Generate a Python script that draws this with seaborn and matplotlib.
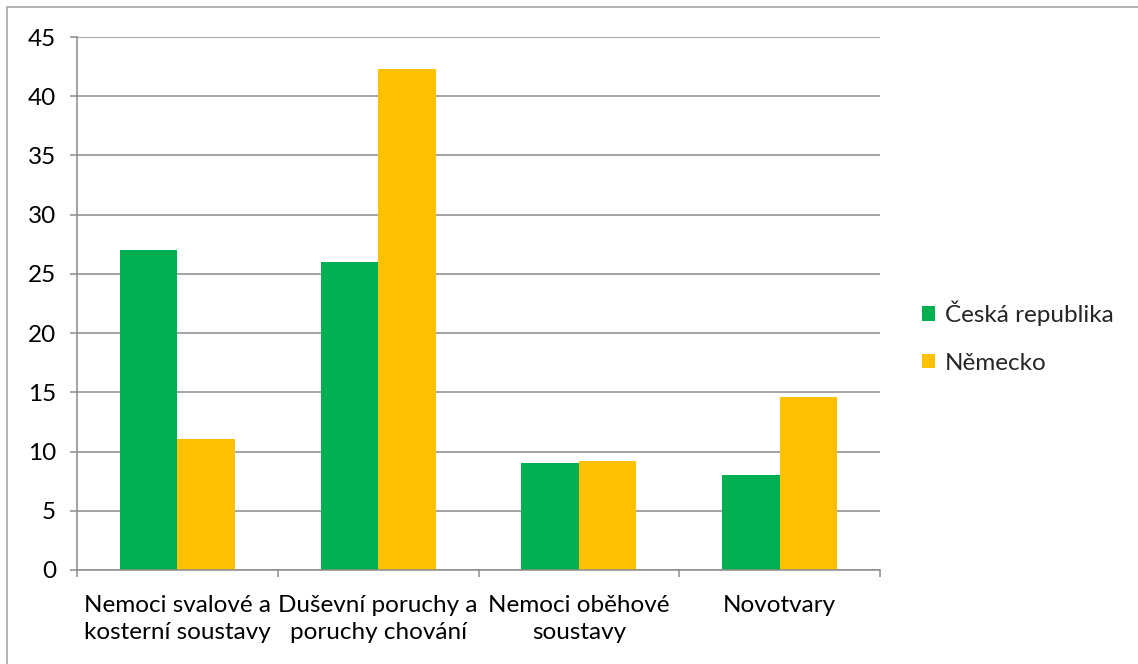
import matplotlib
matplotlib.use("Agg")
import matplotlib.pyplot as plt
from matplotlib.patches import Rectangle
from matplotlib.ticker import FixedLocator
import pandas as pd
import seaborn as sns

# Data
categories = [
    "Nemoci svalové a\nkosterní soustavy",
    "Duševní poruchy a\nporuchy chování",
    "Nemoci oběhové\nsoustavy",
    "Novotvary",
]
series_names = ["Česká republika", "Německo"]
cz_values = [27.0, 26.0, 9.0, 8.0]
de_values = [11.1, 42.3, 9.2, 14.6]
y_ticks = [0, 5, 10, 15, 20, 25, 30, 35, 40, 45]

colors = {"Česká republika": "#00B050", "Německo": "#FFC000"}
grid_gray = "#8C8C8C"
font_size = 17.5

df = pd.DataFrame({
    "kategorie": categories * 2,
    "země": [series_names[0]] * 4 + [series_names[1]] * 4,
    "hodnota": cz_values + de_values,
})

sns.set_theme(style="white")
plt.rcParams["font.family"] = ["Lato", "DejaVu Sans"]

fig = plt.figure(figsize=(11.38, 6.64), dpi=100)
ax = fig.add_axes([77 / 1138, 1 - 570 / 664, (880 - 77) / 1138, (570 - 37) / 664])

sns.barplot(
    data=df, x="kategorie", y="hodnota", hue="země",
    order=categories, hue_order=series_names, palette=colors,
    width=0.573, gap=0, linewidth=0, saturation=1, ax=ax,
)

ax.set_xlim(-0.5, len(categories) - 0.5)
ax.set_ylim(0, 45)
ax.yaxis.set_major_locator(FixedLocator(y_ticks))
ax.set_xlabel("")
ax.set_ylabel("")

# Horizontal gridlines
ax.grid(axis="y", color=grid_gray, linewidth=1.1)
ax.grid(axis="x", visible=False)
ax.set_axisbelow(True)

for side in ["top", "right"]:
    ax.spines[side].set_visible(False)
for side in ["left", "bottom"]:
    ax.spines[side].set_color(grid_gray)
    ax.spines[side].set_linewidth(1.1)

# Category separators as minor ticks on the x axis
ax.xaxis.set_minor_locator(FixedLocator([i - 0.5 for i in range(len(categories) + 1)]))
ax.tick_params(axis="x", which="major", length=0, pad=18, labelsize=font_size, colors="black")
ax.tick_params(axis="x", which="minor", length=5, width=1.1, color=grid_gray, bottom=True)
ax.tick_params(axis="y", which="major", length=5, width=1.1, color=grid_gray, left=True,
               pad=10, labelsize=font_size, labelcolor="black")
for lbl in ax.get_xticklabels():
    lbl.set_linespacing(1.35)

# Legend
leg = ax.legend(
    loc="center left", bbox_to_anchor=(922 / 1138, 1 - 337 / 664),
    bbox_transform=fig.transFigure, frameon=False, fontsize=font_size,
    handlelength=0.55, handleheight=0.55, handletextpad=0.4,
    labelspacing=1.1, borderpad=0, borderaxespad=0,
)

# Outer chart-area frame
fig.patches.append(Rectangle((7 / 1138, -0.1), 1.2, 1.1 - 7.5 / 664,
                             transform=fig.transFigure, fill=False,
                             edgecolor="#A6A6A6", linewidth=1.2))

fig.savefig("out.png", dpi=100)
